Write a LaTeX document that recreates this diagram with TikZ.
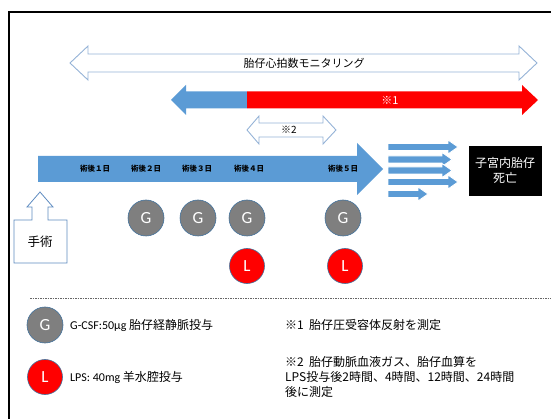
\documentclass[tikz,border=0pt]{standalone}
\usepackage{fontspec}
\setmainfont{Carlito}
\newfontfamily\jp{Noto Sans CJK JP}
\definecolor{obl}{HTML}{5B9BD5}
\definecolor{oln}{HTML}{95B3D7}
\definecolor{cal}{HTML}{5E8BC0}
\definecolor{gcir}{HTML}{7F7F7F}
\definecolor{cedge}{HTML}{41719C}
\begin{document}
\begin{tikzpicture}[x=1pt,y=-1pt,
  outarrow/.style={draw=oln,fill=white,line width=0.9pt,line join=miter},
  smallarr/.style={fill=obl,draw=white,line width=0.8pt},
  gdot/.style={circle,fill=gcir,draw=cedge,line width=0.6pt,minimum size=36pt,inner sep=0pt,text=white,font=\fontsize{17}{17}\selectfont},
  ldot/.style={circle,fill=red,draw=cedge,line width=0.6pt,minimum size=35pt,inner sep=0pt,text=white,font=\fontsize{17}{17}\selectfont},
  daylbl/.style={font=\jp\fontsize{7.5}{8}\selectfont\bfseries,text=black},
  legtxt/.style={anchor=west,font=\fontsize{12}{14}\selectfont,align=left,inner sep=0pt}]
\useasboundingbox (0,0) rectangle (551,419);
% frame
\draw[line width=2pt] (551,12) -- (9,12) -- (9,419);
% monitoring double arrow
\draw[outarrow] (70,63) -- (88,46) -- (88,54) -- (519,54) -- (519,46) -- (537,63) -- (519,80) -- (519,72) -- (88,72) -- (88,80) -- cycle;
\node[font=\jp\fontsize{11}{12}\selectfont] (mon) at (304,63) {胎仔心拍数モニタリング};
% blue-red double arrow
\fill[obl] (171,100) -- (186,85) -- (186,91.5) -- (247,91.5) -- (247,108.5) -- (186,108.5) -- (186,115) -- cycle;
\fill[red] (247,91.5) -- (522,91.5) -- (522,85) -- (538,100) -- (522,115) -- (522,108.5) -- (247,108.5) -- cycle;
\node[text=white,font=\jp\fontsize{11}{11}\selectfont] (n1) at (390,100) {※1};
% note 2 double arrow
\draw[outarrow] (247,130) -- (259,116) -- (259,123) -- (323,123) -- (323,116) -- (336,130) -- (323,144) -- (323,137) -- (259,137) -- (259,144) -- cycle;
\node[font=\jp\fontsize{10}{10}\selectfont] (n2) at (289,130) {※2};
% main timeline arrow
\fill[obl] (38,156) -- (357,156) -- (357,143) -- (383,169) -- (357,195) -- (357,182) -- (38,182) -- cycle;
\node[daylbl] (d1) at (95,169) {術後１日};
\node[daylbl] (d2) at (146,169) {術後２日};
\node[daylbl] (d3) at (197,169) {術後３日};
\node[daylbl] (d4) at (249,169) {術後４日};
\node[daylbl] (d5) at (343,169) {術後５日};
% small arrows
\draw[smallarr] (388,143.5) -- (448,143.5) -- (448,140) -- (458,147) -- (448,154) -- (448,150.5) -- (388,150.5) -- cycle;
\draw[smallarr] (388,156) -- (442,156) -- (442,152.5) -- (452,159.5) -- (442,166.5) -- (442,163) -- (388,163) -- cycle;
\draw[smallarr] (388,167) -- (442,167) -- (442,163.5) -- (452,170.5) -- (442,177.5) -- (442,174) -- (388,174) -- cycle;
\draw[smallarr] (388,178.5) -- (448,178.5) -- (448,175) -- (458,182) -- (448,189) -- (448,185.5) -- (388,185.5) -- cycle;
\draw[smallarr] (388,190.5) -- (418,190.5) -- (418,187) -- (428,194) -- (418,201) -- (418,197.5) -- (388,197.5) -- cycle;
% black box
\node[fill=black,draw=black,minimum width=72pt,minimum height=49pt,inner sep=0pt,text=white,align=center,font=\jp\fontsize{12}{15}\selectfont] (death) at (505,170.5) {子宮内胎仔\\死亡};
% surgery callout
\draw[draw=cal,fill=white,line width=0.8pt] (14,220) -- (32,220) -- (32,207) -- (27,207) -- (40,192) -- (53,207) -- (48,207) -- (48,220) -- (67,220) -- (67,263) -- (14,263) -- cycle;
\node[font=\jp\fontsize{12.5}{13}\selectfont] (op) at (40,242) {手術};
% circles
\node[gdot] (g1) at (146,218) {G};
\node[gdot] (g2) at (198,218) {G};
\node[gdot] (g3) at (247,218) {G};
\node[gdot] (g4) at (343,218) {G};
\node[ldot] (l1) at (247,266) {L};
\node[ldot] (l2) at (345,266) {L};
% dashed separator
\draw[gray!80!black,dash pattern=on 1.5pt off 1pt,line width=0.6pt] (30,298) -- (551,298);
% legend
\node[gdot] (lg) at (45,325) {G};
\node[ldot] (ll) at (45,377) {L};
\node[legtxt] (tg) at (70,325) {G-CSF:50μg {\jp 胎仔経静脈投与}};
\node[legtxt] (tl) at (70,377) {LPS: 40mg {\jp 羊水腔投与}};
\node[legtxt,font=\jp\fontsize{12}{14}\selectfont] (t1) at (285,325) {※1\ \ 胎仔圧受容体反射を測定};
\node[legtxt,font=\jp\fontsize{12}{15}\selectfont,anchor=north west] (t2) at (285,356) {※2\ \ 胎仔動脈血液ガス、胎仔血算を\\LPS投与後2時間、4時間、12時間、24時間\\後に測定};
\end{tikzpicture}
\end{document}
